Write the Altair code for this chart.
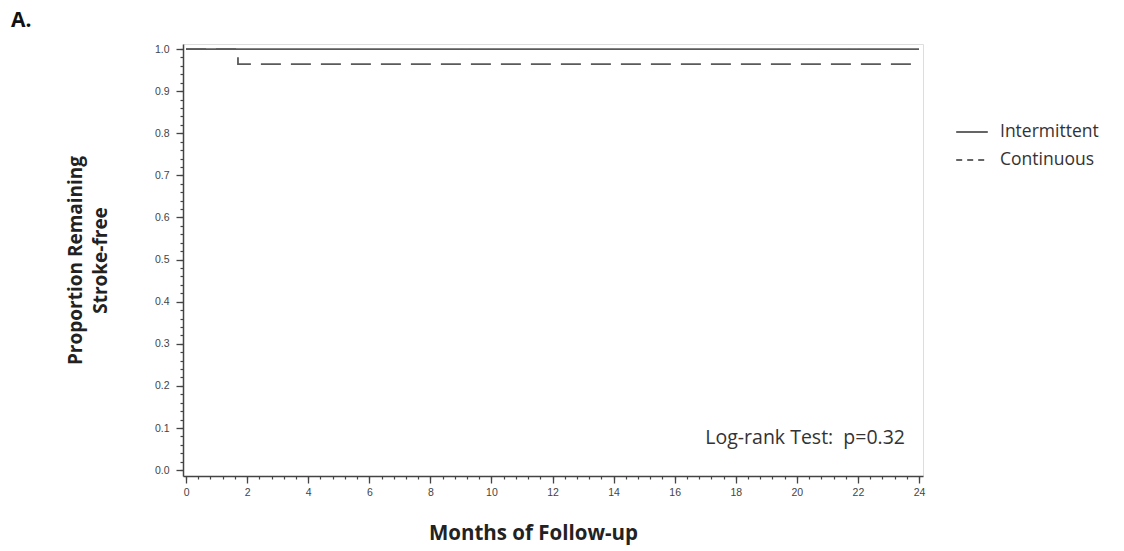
import altair as alt
import pandas as pd

# ---- data ----
intermittent_months = [0, 24]
intermittent_surv = [1.0, 1.0]
continuous_months = [0, 1.7, 24]
continuous_surv = [1.0, 0.964, 0.964]
groups = ["Intermittent", "Continuous"]
x_major = list(range(0, 25, 2))
x_minor = [round(i * 0.4, 1) for i in range(0, 61)]
y_major = [round(i * 0.1, 1) for i in range(0, 11)]
y_minor = [round(i * 0.02, 2) for i in range(0, 51)]
annotation = "Log-rank Test:\u00a0\u00a0p=0.32"
panel_label = "A."

rows = []
for m, s in zip(intermittent_months, intermittent_surv):
    rows.append({"month": m, "surv": s, "group": groups[0]})
for m, s in zip(continuous_months, continuous_surv):
    rows.append({"month": m, "surv": s, "group": groups[1]})
df = pd.DataFrame(rows)

W, H = 740, 432
TICK_FONT = "Liberation Sans"
TITLE_FONT = "Open Sans"

xscale = alt.Scale(domain=[-0.1, 24.13], nice=False, zero=False)
yscale = alt.Scale(domain=[-0.014, 1.012], nice=False, zero=False)

base = alt.Chart(df)

lines = base.mark_line(interpolate="step-after", strokeWidth=1.8, color="#5a5a5a").encode(
    x=alt.X("month:Q", scale=xscale,
            axis=alt.Axis(values=x_major, format="d", title="Months of Follow-up",
                          titleFont=TITLE_FONT, titleFontSize=20.5, titleFontWeight="bold",
                          titleColor="#222222", titlePadding=26, titleX=350,
                          labelFont=TICK_FONT, labelFontSize=10.5, labelColor="#444444",
                          labelPadding=4, tickSize=7, tickColor="#444444", tickWidth=1.3,
                          domainColor="#444444", domainWidth=1.5, grid=False, orient="bottom")),
    y=alt.Y("surv:Q", scale=yscale,
            axis=alt.Axis(values=y_major, format=".1f",
                          title=["Proportion Remaining", "Stroke-free"],
                          titleFont=TITLE_FONT, titleFontSize=19, titleFontWeight="bold",
                          titleColor="#222222", titlePadding=44, titleLineHeight=25,
                          labelFont=TICK_FONT, labelFontSize=10.5, labelColor="#444444",
                          labelPadding=7, tickSize=7, tickColor="#444444", tickWidth=1.3,
                          domainColor="#444444", domainWidth=1.5, grid=False, orient="left")),
    strokeDash=alt.StrokeDash("group:N", scale=alt.Scale(domain=groups, range=[[1, 0], [20, 10]]),
                              legend=None),
    detail="group:N",
)

minor = base.mark_point(opacity=0).encode(
    x=alt.X("month:Q", scale=xscale,
            axis=alt.Axis(values=x_minor, labels=False, title=None, tickSize=3,
                          tickColor="#444444", tickWidth=1.2, domain=False, grid=False,
                          orient="bottom")),
    y=alt.Y("surv:Q", scale=yscale,
            axis=alt.Axis(values=y_minor, labels=False, title=None, tickSize=3,
                          tickColor="#444444", tickWidth=1.2, domain=False, grid=False,
                          orient="left")),
)

legend_layer = base.transform_filter("false").mark_line(strokeWidth=1.6, color="#333333").encode(
    x=alt.X("month:Q", scale=xscale, axis=None),
    y=alt.Y("surv:Q", scale=yscale, axis=None),
    strokeDash=alt.StrokeDash("group:N",
                              scale=alt.Scale(domain=groups, range=[[1, 0], [6, 5]]),
                              legend=alt.Legend(title=None, orient="none", legendX=772, legendY=71,
                                                symbolType="stroke", symbolSize=1000,
                                                symbolStrokeWidth=1.6, symbolStrokeColor="#333333",
                                                labelFont=TITLE_FONT, labelFontSize=17.5,
                                                labelColor="#333333", rowPadding=2,
                                                labelOffset=11)),
)

note = alt.Chart(pd.DataFrame({"t": [annotation]})).mark_text(
    align="right", baseline="middle", font=TITLE_FONT, fontSize=19.5, color="#333333"
).encode(text="t:N", x=alt.value(722), y=alt.value(394))

label = alt.Chart(pd.DataFrame({"t": [panel_label]})).mark_text(
    align="left", baseline="middle", font=TITLE_FONT, fontSize=21, fontWeight="bold", color="#111111"
).encode(text="t:N", x=alt.value(-172), y=alt.value(-23))

chart = alt.layer(lines, minor, legend_layer, note, label).resolve_scale(
    strokeDash="independent"
).resolve_axis(x="independent", y="independent").properties(
    width=W, height=H,
    autosize=alt.AutoSizeParams(type="none"),
    padding={"left": 183, "top": 44, "right": 201, "bottom": 75},
).configure_view(stroke="#8a8a8a", strokeWidth=1.5).configure(background="white")

chart.save("out.html", embed_options={"renderer": "svg", "actions": False})
